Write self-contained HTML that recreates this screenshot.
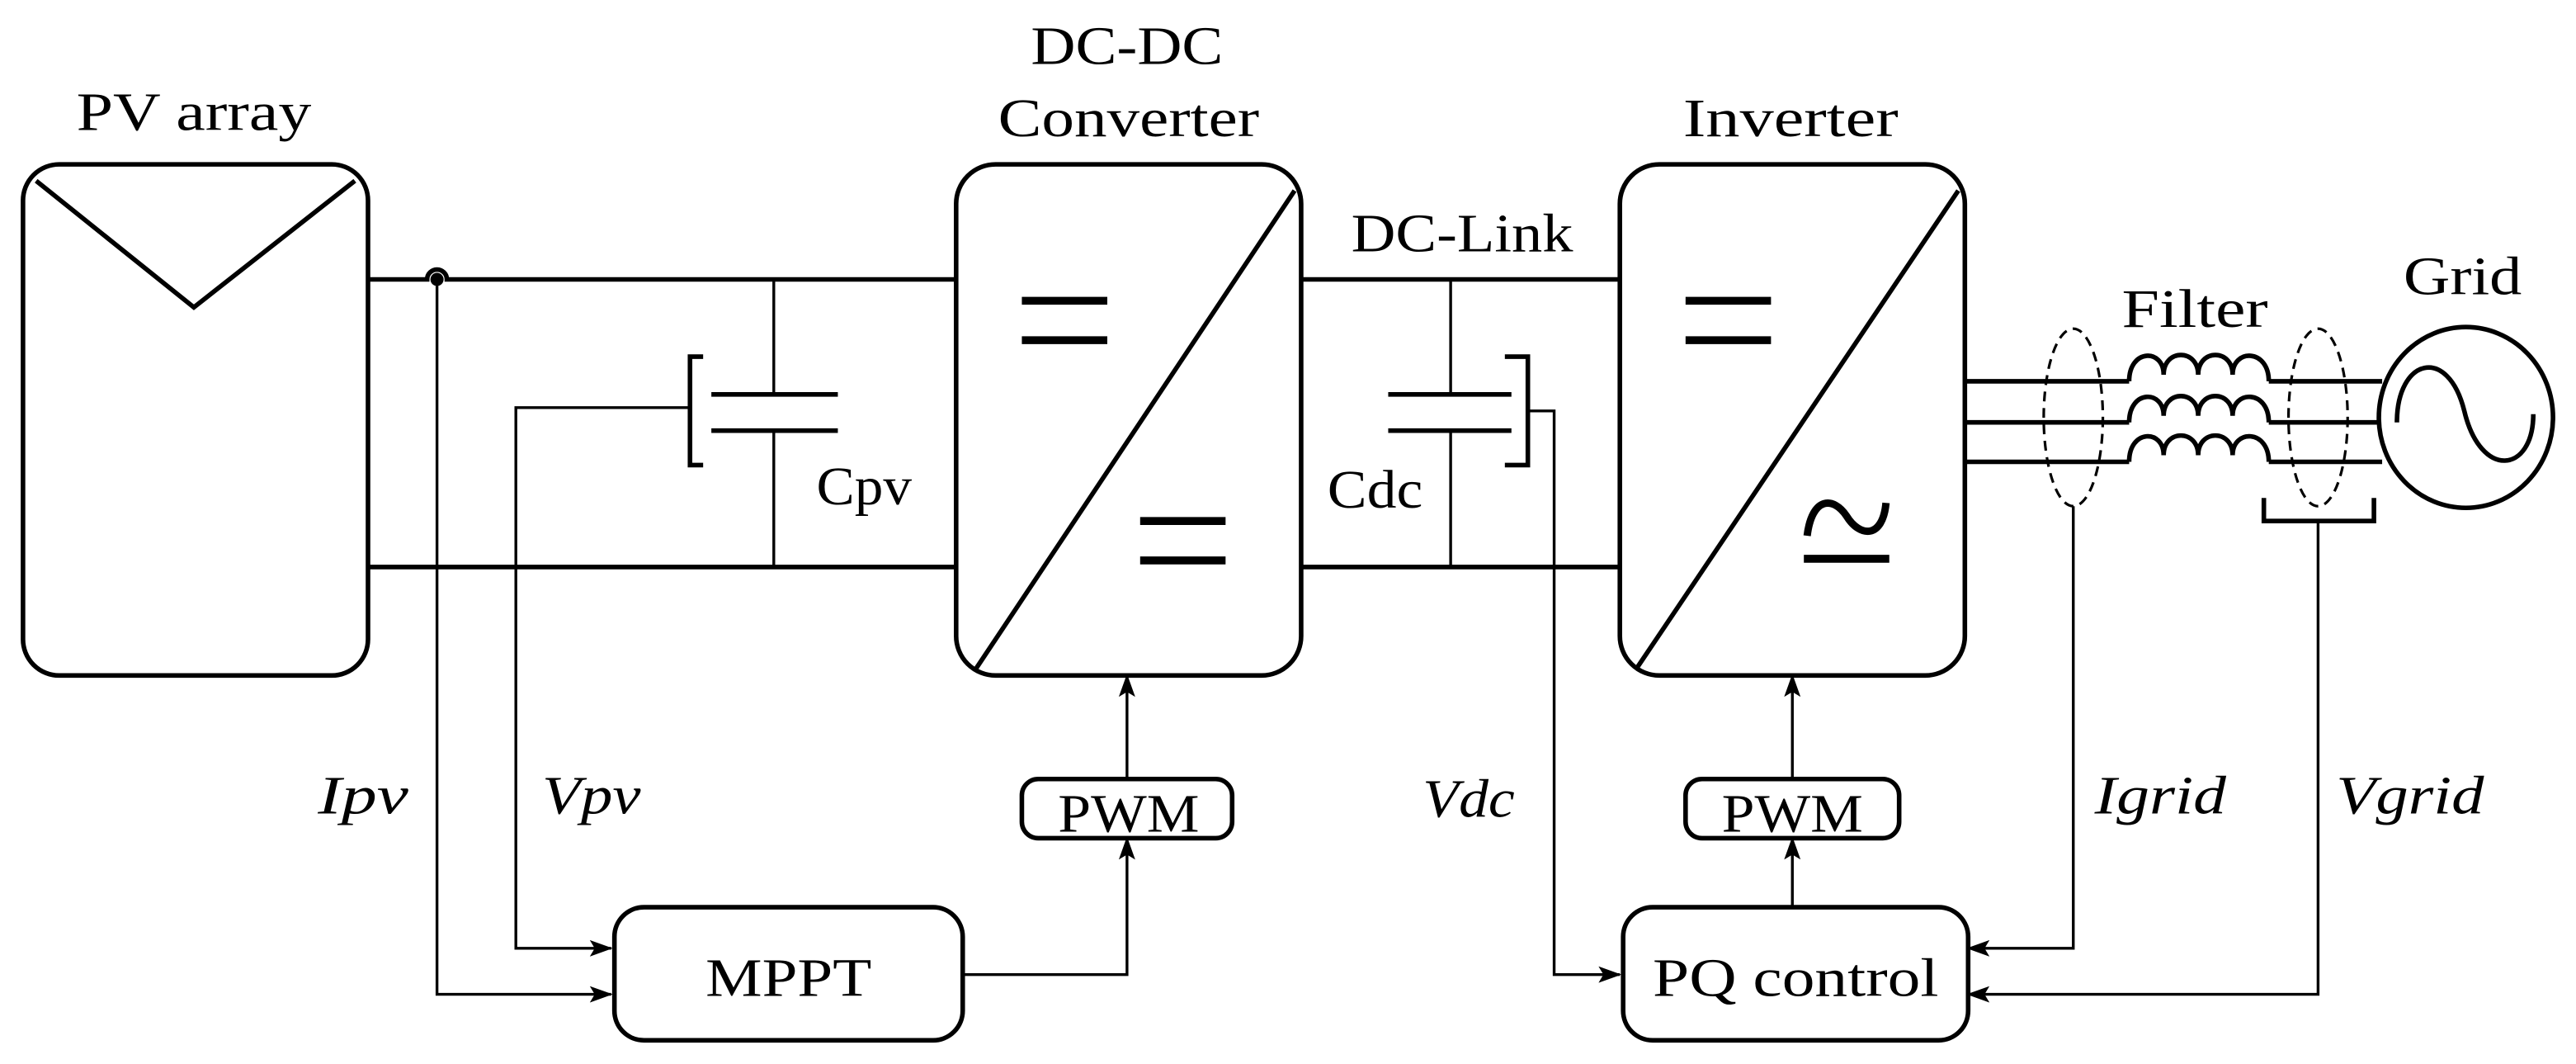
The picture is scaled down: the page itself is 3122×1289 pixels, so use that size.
<!DOCTYPE html>
<html><head><meta charset="utf-8"><style>html,body{margin:0;padding:0;background:#fff}svg{display:block}</style></head>
<body>
<svg width="3122" height="1289" viewBox="0 0 1568 647.4" preserveAspectRatio="none" xmlns="http://www.w3.org/2000/svg">
<defs>
<marker id="a" markerWidth="14" markerHeight="10" refX="13" refY="5" orient="auto" markerUnits="userSpaceOnUse">
<path d="M0,0 L14,5 L0,10 L3,5 Z" fill="#000"/></marker>
</defs>
<g font-family="'Liberation Serif', serif" font-size="33" fill="#000" text-anchor="middle" lengthAdjust="spacingAndGlyphs">
<text x="118" y="79" textLength="143" lengthAdjust="spacingAndGlyphs">PV array</text>
<text x="686" y="39" textLength="117" lengthAdjust="spacingAndGlyphs">DC-DC</text>
<text x="687" y="83" textLength="159" lengthAdjust="spacingAndGlyphs">Converter</text>
<text x="1090" y="83" textLength="131" lengthAdjust="spacingAndGlyphs">Inverter</text>
<text x="890" y="153" textLength="135" lengthAdjust="spacingAndGlyphs">DC-Link</text>
<text x="1336" y="199" textLength="89" lengthAdjust="spacingAndGlyphs">Filter</text>
<text x="1499" y="179" textLength="72" lengthAdjust="spacingAndGlyphs">Grid</text>
<text x="526" y="307" textLength="58" lengthAdjust="spacingAndGlyphs">Cpv</text>
<text x="837" y="309" textLength="58" lengthAdjust="spacingAndGlyphs">Cdc</text>
<text x="687" y="506" textLength="86" lengthAdjust="spacingAndGlyphs">PWM</text>
<text x="1091" y="506" textLength="86" lengthAdjust="spacingAndGlyphs">PWM</text>
<text x="480" y="606" textLength="101" lengthAdjust="spacingAndGlyphs">MPPT</text>
<text x="1093" y="606" textLength="174" lengthAdjust="spacingAndGlyphs">PQ control</text>
<g font-style="italic">
<text x="221" y="495" textLength="55" lengthAdjust="spacingAndGlyphs">Ipv</text>
<text x="360" y="495" textLength="60" lengthAdjust="spacingAndGlyphs">Vpv</text>
<text x="894" y="497" textLength="56" lengthAdjust="spacingAndGlyphs">Vdc</text>
<text x="1315" y="495" textLength="80" lengthAdjust="spacingAndGlyphs">Igrid</text>
<text x="1467" y="495" textLength="90" lengthAdjust="spacingAndGlyphs">Vgrid</text>
</g>
</g>
<g fill="none" stroke="#000" stroke-width="2.8">
<rect x="14" y="100" width="210" height="311" rx="22"/>
<path d="M22,110 L118,187 L216,110"/>
<rect x="582" y="100" width="210" height="311" rx="24"/>
<path d="M594,407 L788,116"/>
<rect x="986" y="100" width="210" height="311" rx="24"/>
<path d="M996,407 L1192,116"/>
<path d="M224,170 H260 A6,6 0 0 1 272,170 H582"/>
<path d="M224,345 H582"/>
<path d="M792,170 H986 M792,345 H986"/>
<path d="M1196,232 H1296 M1196,257 H1296 M1196,281 H1296"/>
<path d="M1381,232 H1450 M1381,257 H1448 M1381,281 H1450"/>
<path d="M1296,232 c0,-20 21,-20 21,-4 c0,-16 21,-16 21,0 c0,-16 21,-16 21,0 c0,-16 22,-16 22,4"/>
<path d="M1296,257 c0,-20 21,-20 21,-4 c0,-16 21,-16 21,0 c0,-16 21,-16 21,0 c0,-16 22,-16 22,4"/>
<path d="M1296,281 c0,-20 21,-20 21,-4 c0,-16 21,-16 21,0 c0,-16 21,-16 21,0 c0,-16 22,-16 22,4"/>
<ellipse cx="1501" cy="254" rx="53" ry="55"/>
<path d="M1459,257 C1459,218 1490,210 1500,250 C1510,292 1542,288 1542,252"/>
<path d="M433,240 H510 M433,262 H510" />
<path d="M845,240 H920 M845,262 H920"/>
<path d="M428,217 H420 V283 H428"/>
<path d="M916,217 H930 V283 H916"/>
<path d="M1378,303 V317 H1445 V303"/>
<rect x="622" y="474" width="128" height="36" rx="10"/>
<rect x="1026" y="474" width="130" height="36" rx="10"/>
<rect x="374" y="552" width="212" height="81" rx="18"/>
<rect x="988" y="552" width="210" height="81" rx="18"/>
</g>
<g stroke="#000" stroke-width="4.8">
<path d="M622,183 H674 M622,207 H674"/>
<path d="M694,317 H746 M694,341 H746"/>
<path d="M1026,183 H1078 M1026,207 H1078"/>
<path d="M1098,340 H1150"/>
</g>
<path d="M1100,326 C1103,302 1116,302 1124,314 C1132,327 1146,328 1148,306" fill="none" stroke="#000" stroke-width="4.5"/>
<g fill="none" stroke="#000" stroke-width="1.6" stroke-dasharray="6,4">
<ellipse cx="1262" cy="254" rx="18" ry="54"/>
<ellipse cx="1411" cy="254" rx="18" ry="54"/>
</g>
<circle cx="266" cy="170" r="4" fill="#000"/>
<g fill="none" stroke="#000" stroke-width="1.7">
<path d="M471,170 V240 M471,262 V345"/>
<path d="M883,170 V240 M883,262 V345"/>
<path d="M266,170 V605 H372" marker-end="url(#a)"/>
<path d="M420,248 H314 V577 H372" marker-end="url(#a)"/>
<path d="M930,250 H946 V593 H986" marker-end="url(#a)"/>
<path d="M586,593 H686 V510" marker-end="url(#a)"/>
<path d="M686,474 V411" marker-end="url(#a)"/>
<path d="M1091,552 V510" marker-end="url(#a)"/>
<path d="M1091,474 V411" marker-end="url(#a)"/>
<path d="M1262,308 V577 H1198" marker-end="url(#a)"/>
<path d="M1411,317 V605 H1198" marker-end="url(#a)"/>
</g>
</svg>
</body></html>
